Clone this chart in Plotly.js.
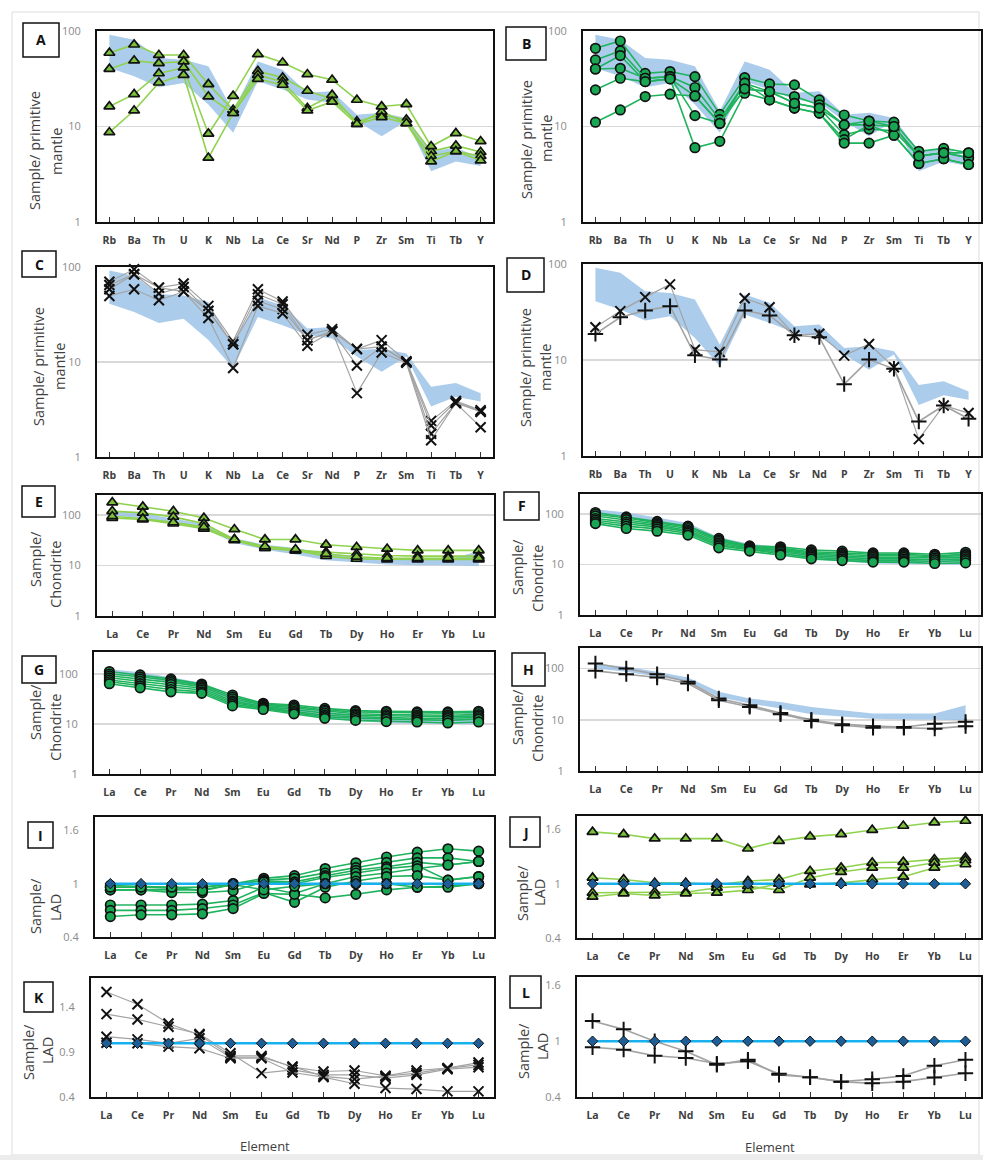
<!DOCTYPE html>
<html><head><meta charset="utf-8">
<script src="https://cdn.plot.ly/plotly-3.0.1.min.js"></script>
<style>html,body{margin:0;padding:0;background:#fff}#chart{width:983px;height:1160px}</style>
</head><body><div id="chart"></div>
<script>
// ---------- categories ----------
const peCats = ['Rb','Ba','Th','U','K','Nb','La','Ce','Sr','Nd','P','Zr','Sm','Ti','Tb','Y'];
const reeCats = ['La','Ce','Pr','Nd','Sm','Eu','Gd','Tb','Dy','Ho','Er','Yb','Lu'];

// ---------- reference fields (blue bands) ----------
const pmBandUpper = [91.6,81,52,50,42.7,14.5,48,39.4,22.5,23.4,13.3,13.9,12.3,5.5,6.0,4.7];
const pmBandLower = [41,33.6,25.8,28.6,17,8.6,29.8,24.4,19.2,17.7,11.4,7.9,11.4,3.4,4.3,3.85];
const chBandUpper = [125,108,86,66.7,35,25.9,22.3,17.8,15.3,13.2,13.2,13.2,19.2];
const chBandLower = [100,86,68.7,54.9,27.9,20.7,16.5,12.8,11.4,10.5,10.1,10.1,9.8];
const ladRef = [1,1,1,1,1,1,1,1,1,1,1,1,1];

// ---------- sample series ----------
const panelA = [
 [59,72,56,56,27.7,14.9,38,32.5,23.6,19.5,11.3,13.2,11.8,5.5,6.3,5.4],
 [40,49,46,48,20.6,13.8,34.7,29.5,15.6,21.4,10.6,14.3,10.8,4.9,5.5,4.9],
 [16.2,21.8,36,41.4,8.4,20.9,57,46.7,35.2,30.8,19,16.2,17.1,6.2,8.5,7.0],
 [8.7,14.7,28.8,34.7,4.7,13.8,31.5,27.3,14.7,18.2,10.6,12.5,10.8,4.3,5.5,4.4]
];
const panelB = [
 [65.9,78.6,36,37.6,33.3,13.4,32.5,27.9,27.3,19,13.2,11.4,11.1,5.5,5.9,5.3],
 [49.8,61.8,32,33.3,25.6,11.8,28.4,23.2,20.6,16.9,10.4,10.4,10,4.9,5.3,4.7],
 [40,55.3,29.5,31.5,20.9,10.8,24.8,23.2,17.5,15.6,8.2,9.4,9,4.9,5.3,4.7],
 [40,40.7,32,33.3,13,10.8,28.4,19,15.6,13.8,7.3,10.4,8.1,4.1,4.6,4.0],
 [24.2,32,29.5,31.5,6.0,7.0,22.3,19,15.6,13.8,6.7,6.7,8.1,4.1,4.6,4.0],
 [11.1,14.9,20.6,21.8,20.9,10.8,24.8,23.2,17.5,15.6,10.4,11.4,10,4.9,5.3,5.3]
];
const panelC = [
 [70,94.5,60.7,66.9,39,16.5,58.3,43.3,19.4,22.2,13.7,17,10.2,2.4,3.9,3.1],
 [64.7,83.8,52.5,61.7,34.5,15.4,51.7,40.6,17,21,9.2,14.5,10,2.15,3.8,3.0],
 [58.3,83.8,60.7,55.1,34.5,15.4,44,36,17,21,13.7,14.5,10,1.76,3.7,2.06],
 [49.6,58.3,44.7,55.1,29,8.65,39,32.4,14.8,21,4.7,12.6,9.8,1.5,3.7,3.0]
];
const panelDx = [
 [21.9,32.3,45.2,61.3,12.8,12.1,44,35.5,18.1,18.8,11.1,14.7,8.4,1.5,3.36,2.8]
];
const panelDplus = [
 [18.7,27.9,32.8,36.4,11.2,10.1,32.8,29.1,18.1,17.3,5.6,10.1,8.1,2.29,3.36,2.44]
];
const panelE = [
 [179,147,120,88,52.5,33,33,25.9,23.3,21.5,20,20,20],
 [120,111,92.6,68,33,22.2,20,18.5,17.1,15.8,15.4,15.4,15.4],
 [88,82,68,54,31.6,22.2,20,15.4,13.6,13.2,13.2,13.2,13.2],
 [95,85,72,58,33,24,21,17,15,14,14,14,14]
];
const panelF = [
 [108,88,72,58,33,23.5,22.5,19.5,18.5,17,17,16,17.5],
 [100,84,68,56,31,22.5,21,18,17,16,16,15,16],
 [92,78,64,52,29,22,20,17,16,15,15,14.5,15],
 [82,70,60,48,27,21,19,16,15,14,14,13.5,14],
 [76,64,56,45,25,20,18,15,14,13,13,12.5,13],
 [70,58,51,42,23.5,19.5,16.5,14,13,12,12,11.5,12],
 [65,52,46,38.5,21.5,18.5,15.5,13,12,11.2,11.2,10.5,10.8]
];
const panelG = [
 [112,96,80,63,38,26,24,20.5,18.5,18,17.5,17.5,18],
 [100,88,74,60,35,25,22.5,19,17.5,17,16.5,16.5,17],
 [92,80,68,56,32,24,21,18,16,15.5,15,15,15.5],
 [84,72,62,52,29,22.5,19.5,16.5,15,14.5,14,14,14.5],
 [76,64,55,48,27,21.5,18,15,14,13.5,13,13,13.5],
 [70,58,49,44,25,20.5,17,14,13,12.5,12,11.8,12.5],
 [64,53,44,41,23,19.5,16,13,11.8,11.2,11,10.5,11]
];
const panelH = [
 [125,100,77.5,54.9,25.9,19.2,13.6,10,8.2,7.5,7.2,8.4,9.1],
 [90,77.5,66.7,51,24,17.8,12.8,9.5,7.8,7.0,7.0,6.7,7.5]
];
const panelI = [
 [0.96,0.96,0.95,0.96,1.0,1.06,1.09,1.17,1.235,1.30,1.354,1.392,1.366],
 [0.93,0.93,0.93,0.93,0.99,1.04,1.06,1.12,1.18,1.24,1.29,1.29,1.25],
 [0.98,0.97,0.96,0.96,1.0,1.03,1.02,1.09,1.15,1.19,1.24,1.21,1.25],
 [0.93,0.93,0.90,0.90,0.92,1.02,1.0,1.07,1.12,1.17,1.20,1.04,1.08],
 [0.76,0.76,0.76,0.77,0.81,0.96,0.89,1.0,1.08,1.12,1.17,1.21,1.25],
 [0.70,0.70,0.70,0.72,0.76,0.90,0.79,0.96,1.03,1.08,1.09,1.04,1.08],
 [0.63,0.65,0.65,0.66,0.72,0.89,0.88,0.84,0.88,0.93,0.96,0.97,1.0],
 [0.96,0.96,0.96,0.92,0.99,0.93,0.97,1.0,1.0,1.0,0.96,0.96,1.0]
];
const panelJ = [
 [1.574,1.548,1.5,1.5,1.5,1.389,1.474,1.522,1.548,1.596,1.641,1.678,1.696],
 [1.067,1.048,1.011,1.011,0.99,1.03,1.048,1.141,1.178,1.233,1.241,1.27,1.289],
 [0.9,0.907,0.907,0.907,0.956,0.974,0.93,1.067,1.13,1.178,1.178,1.233,1.259],
 [0.856,0.893,0.87,0.893,0.9,0.93,1.0,0.993,1.01,1.048,1.078,1.178,1.215]
];
const panelK = [
 [1.574,1.437,1.222,1.093,0.859,0.859,0.733,0.685,0.696,0.637,0.696,0.722,0.785],
 [1.326,1.267,1.185,1.104,0.889,0.667,0.704,0.648,0.648,0.611,0.648,0.711,0.733],
 [1.074,1.044,1.0,1.056,0.844,0.844,0.741,0.63,0.6,0.63,0.667,0.722,0.759],
 [1.007,1.0,0.963,0.944,0.833,0.833,0.674,0.622,0.548,0.5,0.489,0.463,0.463]
];
const panelL = [
 [1.217,1.127,1.0,0.891,0.746,0.801,0.638,0.612,0.565,0.591,0.627,0.736,0.801],
 [0.935,0.909,0.844,0.819,0.757,0.783,0.649,0.612,0.565,0.547,0.565,0.609,0.656]
];

// ---------- styles ----------
const W = 983, H = 1160;
const STY = {
  tri:  {line:{color:'#8fd24e',width:1.6}, marker:{symbol:'triangle-up',size:9.5,color:'#7cc03c',line:{color:'#111',width:1.7}}},
  circ: {line:{color:'#1fb35d',width:1.6}, marker:{symbol:'circle',size:9.5,color:'#19a653',line:{color:'#111',width:1.7}}},
  x:    {line:{color:'#a3a3a3',width:1.2}, marker:{symbol:'x-thin-open',size:10,color:'#111',line:{color:'#111',width:2}}},
  plus: {line:{color:'#a3a3a3',width:1.6}, marker:{symbol:'cross-thin-open',size:11,color:'#111',line:{color:'#111',width:2}}},
  lad:  {line:{color:'#16b1ee',width:2.5}, marker:{symbol:'diamond',size:8,color:'#1f5d96',line:{color:'#111',width:1}}}
};

const panels = [
 {k:'A', cats:peCats, px:[97,493], py:[31,222], log:true, range:[0,2], tv:[1,10,100], tt:['1','10','100'], grid:true,
  band:[pmBandUpper,pmBandLower], groups:[[panelA,'tri']], box:[23,23,59,57],
  titles:[['Sample/ primitive',34,151],['mantle',56,152]]},
 {k:'B', cats:peCats, px:[583,981], py:[31,222], log:true, range:[0,2], tv:[1,10,100], tt:['1','10','100'], grid:true,
  band:[pmBandUpper,pmBandLower], groups:[[panelB,'circ']], box:[506,27,546,60],
  titles:[['Sample/ primitive',526,140],['mantle',546,139]]},
 {k:'C', cats:peCats, px:[97,493], py:[267,457], log:true, range:[0,2], tv:[1,10,100], tt:['1','10','100'], grid:true,
  band:[pmBandUpper,pmBandLower], groups:[[panelC,'x']], box:[22,251,56,277],
  titles:[['Sample/ primitive',38,367],['mantle',59,367]]},
 {k:'D', cats:peCats, px:[583,981], py:[264,456], log:true, range:[0,2], tv:[1,10,100], tt:['1','10','100'], grid:true,
  band:[pmBandUpper,pmBandLower], groups:[[panelDx,'x'],[panelDplus,'plus']], box:[507,258,544,292],
  titles:[['Sample/ primitive',526,368],['mantle',546,368]]},
 {k:'E', cats:reeCats, px:[97,494], py:[495,616], log:true, range:[0,2.4], tv:[1,10,100], tt:['1','10','100'], grid:true,
  band:[chBandUpper,chBandLower], groups:[[panelE,'tri']], box:[22,486,55,517],
  titles:[['Sample/',35,559],['Chondrite',55,575]]},
 {k:'F', cats:reeCats, px:[580,981], py:[494,615], log:true, range:[0,2.4], tv:[1,10,100], tt:['1','10','100'], grid:true,
  band:[chBandUpper,chBandLower], groups:[[panelF,'circ']], box:[504,492,539,520],
  titles:[['Sample/',517,567],['Chondrite',537,579]]},
 {k:'G', cats:reeCats, px:[94,494], py:[652,774], log:true, range:[0,2.44], tv:[1,10,100], tt:['1','10','100'], grid:true,
  band:[chBandUpper,chBandLower], groups:[[panelG,'circ']], box:[22,656,56,683],
  titles:[['Sample/',35,712],['Chondrite',55,728]]},
 {k:'H', cats:reeCats, px:[580,981], py:[648,771], log:true, range:[0,2.4], tv:[1,10,100], tt:['1','10','100'], grid:true,
  band:[chBandUpper,chBandLower], groups:[[panelH,'plus']], box:[512,653,545,686],
  titles:[['Sample/',517,717],['Chondrite',537,729]]},
 {k:'I', cats:reeCats, px:[95,494], py:[817,937], log:false, range:[0.4,1.75], tv:[0.4,1,1.6], tt:['0.4','1','1.6'], grid:false,
  band:null, groups:[[panelI,'circ'],[[ladRef],'lad']], box:[28,822,53,848],
  titles:[['Sample/',35,906],['LAD',55,908]]},
 {k:'J', cats:reeCats, px:[577,981], py:[816,938], log:false, range:[0.4,1.75], tv:[0.4,1,1.6], tt:['0.4','1','1.6'], grid:false,
  band:null, groups:[[panelJ,'tri'],[[ladRef],'lad']], box:[510,817,540,847],
  titles:[['Sample/',522,893],['LAD',539,893]]},
 {k:'K', cats:reeCats, px:[91,494], py:[978,1097], log:false, range:[0.4,1.73], tv:[0.4,0.9,1.4], tt:['0.4','0.9','1.4'], grid:false,
  band:null, groups:[[panelK,'x'],[[ladRef],'lad']], box:[24,982,53,1012],
  titles:[['Sample/',28,1052],['LAD',47,1051]]},
 {k:'L', cats:reeCats, px:[577,981], py:[977,1097], log:false, range:[0.4,1.69], tv:[0.4,1,1.6], tt:['0.4','1','1.6'], grid:false,
  band:null, groups:[[panelL,'plus'],[[ladRef],'lad']], box:[510,976,541,1008],
  titles:[['Sample/',523,1051],['LAD',542,1047]]}
];

const traces = [];
const layout = {
  width: W, height: H, margin:{l:0,r:0,t:0,b:0},
  paper_bgcolor:'#fff', plot_bgcolor:'rgba(0,0,0,0)',
  showlegend:false, hovermode:false,
  shapes:[], annotations:[]
};
const FONT = 'Open Sans, Liberation Sans, sans-serif';

// page frame and bottom strip
layout.shapes.push({type:'rect', xref:'paper', yref:'paper', x0:12/W, x1:979/W, y0:1-1155/H, y1:1-12/H,
  line:{color:'#dcdcdc', width:1}, fillcolor:'rgba(0,0,0,0)', layer:'below'});
layout.shapes.push({type:'rect', xref:'paper', yref:'paper', x0:0, x1:1, y0:0, y1:1-1155/H,
  line:{width:0}, fillcolor:'#ececec', layer:'below'});

panels.forEach((p, i) => {
  const n = i + 1;
  const xa = n === 1 ? 'xaxis' : 'xaxis' + n;
  const ya = n === 1 ? 'yaxis' : 'yaxis' + n;
  const xr = n === 1 ? 'x' : 'x' + n;
  const yr = n === 1 ? 'y' : 'y' + n;

  layout[xa] = {
    domain:[p.px[0]/W, p.px[1]/W], anchor:yr, type:'category',
    range:[-0.5, p.cats.length - 0.5], tickmode:'array', tickvals:p.cats, ticktext:p.cats,
    showline:true, mirror:true, linecolor:'#111', linewidth:2,
    ticks:'inside', ticklen:5, tickcolor:'#333', tickwidth:1,
    showgrid:false, zeroline:false, fixedrange:true,
    ticklabelstandoff:7,
    tickfont:{family:FONT, size:10.5, color:'#404040', weight:'bold'}
  };
  layout[ya] = {
    domain:[1 - p.py[1]/H, 1 - p.py[0]/H], anchor:xr,
    type: p.log ? 'log' : 'linear', range:p.range,
    tickmode:'array', tickvals:p.tv, ticktext:p.tt,
    showline:true, mirror:true, linecolor:'#111', linewidth:2,
    ticks:'', showgrid:p.grid, gridcolor:'#d9d9d9', gridwidth:1.5,
    zeroline:false, fixedrange:true, ticklabelstandoff:12,
    tickfont:{family:FONT, size:11, color:'#8a8a8a'}
  };

  if (p.band) {
    const up = p.band[0], lo = p.band[1];
    traces.push({
      type:'scatter', mode:'lines', xaxis:xr, yaxis:yr,
      x: p.cats.concat(p.cats.slice().reverse()),
      y: up.concat(lo.slice().reverse()),
      fill:'toself', fillcolor:'rgba(150,191,230,0.8)', line:{width:0}, hoverinfo:'skip'
    });
  }
  p.groups.forEach(([series, st]) => {
    series.forEach(vals => {
      traces.push({
        type:'scatter', mode:'lines+markers', xaxis:xr, yaxis:yr,
        x:p.cats, y:vals, line:STY[st].line, marker:STY[st].marker, cliponaxis:false
      });
    });
  });

  // panel letter box
  const b = p.box;
  layout.shapes.push({type:'rect', xref:'paper', yref:'paper',
    x0:b[0]/W, x1:b[2]/W, y0:1-b[3]/H, y1:1-b[1]/H,
    line:{color:'#111', width:1.5}, fillcolor:'#fff', layer:'above'});
  layout.annotations.push({xref:'paper', yref:'paper', x:(b[0]+b[2])/2/W, y:1-(b[1]+b[3])/2/H,
    text:p.k, showarrow:false, xanchor:'center', yanchor:'middle',
    font:{family:FONT, size:14, color:'#111', weight:'bold'}});

  // y titles
  p.titles.forEach(([t, x, y]) => {
    layout.annotations.push({xref:'paper', yref:'paper', x:x/W, y:1-y/H, text:t,
      textangle:-90, showarrow:false, xanchor:'center', yanchor:'middle',
      font:{family:FONT, size:14.5, color:'#404040'}});
  });
});

// x-axis titles at the page bottom
layout.annotations.push({xref:'paper', yref:'paper', x:265/W, y:1-1146/H, text:'Element',
  showarrow:false, xanchor:'center', yanchor:'middle', font:{family:FONT, size:13, color:'#404040'}});
layout.annotations.push({xref:'paper', yref:'paper', x:770/W, y:1-1147/H, text:'Element',
  showarrow:false, xanchor:'center', yanchor:'middle', font:{family:FONT, size:13, color:'#404040'}});

Plotly.newPlot('chart', traces, layout, {staticPlot:true, displayModeBar:false});
</script>
</body></html>
